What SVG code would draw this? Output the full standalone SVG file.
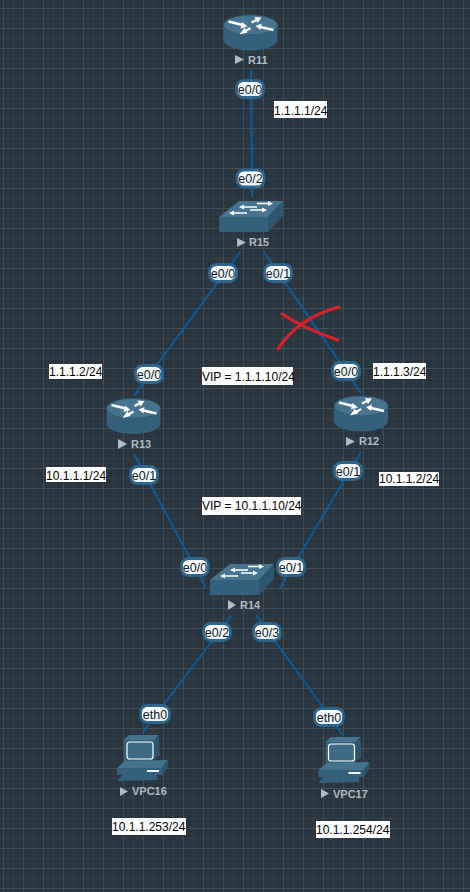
<svg xmlns="http://www.w3.org/2000/svg" xmlns:xlink="http://www.w3.org/1999/xlink" width="470" height="892" viewBox="0 0 470 892">
<style>
text{font-family:"Liberation Sans",Arial,sans-serif}
.lk{stroke:#0b5c9c;stroke-width:2;fill:none}
.pill{fill:url(#pg);stroke:#2a6690;stroke-width:2.8}
.pt{font-size:12.500px;fill:#101820;text-anchor:middle}
.nl{font-size:11px;font-weight:bold;fill:#b0bcc4}
.tri{fill:#b0bcc4}
.wb{fill:#fff}
.wt{font-size:12px;fill:#000}
.body{fill:#33607c}
.top{fill:#447490}
.side{fill:#2c566f}
.x{stroke:#dd1f2a;stroke-width:3;fill:none;stroke-linecap:round}
.ar{stroke:#fff;stroke-width:2.4;fill:none}
</style>
<defs>
<linearGradient id="pg" x1="0" y1="0" x2="0" y2="1"><stop offset="0" stop-color="#fff"/><stop offset="1" stop-color="#e8f3fc"/></linearGradient>
<pattern id="grid" width="20" height="20" patternUnits="userSpaceOnUse" x="3" y="8">
<path d="M10.5 0V20M0 10.5H20" stroke="#323f49" stroke-width="1"/>
<path d="M0.5 0V20M0 0.5H20" stroke="#414e58" stroke-width="1"/>
</pattern>
<symbol id="router" overflow="visible">
<path class="body" d="M-27 0V15A27 10.5 0 0 0 27 15V0Z"/>
<ellipse class="top" rx="27" ry="10" stroke="#2c566f" stroke-width="0.8"/>
<path class="ar" d="M-22-3.500L-8 0M23 5L10 2M1-2.500L6-5M0 3L-5 6"/>
<path fill="#fff" d="M-3 1.500L-10 3.500L-8.500-3ZM5 1L11-1.500L10 5ZM11-7.500L4-8L7-2ZM-11 9.500L-6 2.500L-3 7.500Z"/>
</symbol>
<symbol id="switch" overflow="visible">
<path class="body" d="M0 0H49V15H0Z"/>
<path class="top" d="M0 0L20-16H64L49 0Z"/>
<path class="side" d="M49 0L64-16V-1L49 15Z"/>
<path fill="none" stroke="#fff" stroke-width="1.500" d="M24-10H38M38-13.500H50M14-4H28M31-7H44"/>
<path fill="#fff" d="M54-13.500L49-16V-11ZM20-10L25-12.500V-7.500ZM10-4L15-6.500V-1.500ZM48-7L43-9.500V-4.500Z"/>
</symbol>
<symbol id="pc" overflow="visible">
<path class="top" d="M0 0L5-5H35L30 0Z"/>
<path class="side" d="M30 0L35-4L36 15L29 20Z"/>
<rect class="body" x="0" y="0" width="30" height="22"/>
<rect x="3" y="2" width="26" height="17" rx="2.500" fill="#3d6a87" stroke="#fff" stroke-width="1.200"/>
<path class="top" d="M-7 28L1 21L44 20L38 28Z"/>
<path class="side" d="M38 28L44 20V27L38 35Z"/>
<rect class="body" x="-7" y="28" width="45" height="7"/>
<rect x="23" y="30" width="12" height="2" fill="#fff"/>
<path class="body" d="M-7 41L-2 35H33L34 40Z"/>
</symbol>
</defs>
<rect width="470" height="892" fill="#29353f"/>
<rect width="470" height="892" fill="url(#grid)"/>
<g id="connectors">
<path class="lk" d="M251 70L252 197"/>
<path class="lk" d="M240 252L134 396"/>
<path class="lk" d="M264 252L361 393"/>
<path class="lk" d="M134 454L206 588"/>
<path class="lk" d="M361 452L280 588"/>
<path class="lk" d="M231 616L143 732"/>
<path class="lk" d="M256 615L343 735"/>
</g>
<g id="R11"><use xlink:href="#router" href="#router" x="250.500" y="25"/><path class="tri" d="M235 55L244 59.500L235 64Z"/><text class="nl" x="248" y="64">R11</text></g>
<g id="R15"><use xlink:href="#switch" href="#switch" x="219" y="217"/><path class="tri" d="M237 238L246 242.500L237 247Z"/><text class="nl" x="249" y="246">R15</text></g>
<g id="R13"><use xlink:href="#router" href="#router" x="133.500" y="408.500"/><path class="tri" d="M118 439L127 444L118 449Z"/><text class="nl" x="131" y="448">R13</text></g>
<g id="R12"><use xlink:href="#router" href="#router" x="361" y="406"/><path class="tri" d="M346 437L355 441.500L346 446Z"/><text class="nl" x="359" y="445">R12</text></g>
<g id="R14"><use xlink:href="#switch" href="#switch" x="210" y="580"/><path class="tri" d="M228 600L236 605L228 610Z"/><text class="nl" x="240" y="609">R14</text></g>
<g id="VPC16"><use xlink:href="#pc" href="#pc" x="124" y="740"/><path class="tri" d="M120 787L128 791.500L120 796Z"/><text class="nl" x="132" y="795">VPC16</text></g>
<g id="VPC17"><use xlink:href="#pc" href="#pc" x="325.500" y="742"/><path class="tri" d="M321 789L329 793.500L321 798Z"/><text class="nl" x="333" y="798">VPC17</text></g>
<g id="ports">
<g><rect class="pill" x="236.500" y="80.500" width="27" height="17" rx="7"/><text class="pt" x="250" y="93.500">e0/0</text></g>
<g><rect class="pill" x="237" y="170" width="27" height="17" rx="7"/><text class="pt" x="250.500" y="183">e0/2</text></g>
<g><rect class="pill" x="209.500" y="264.500" width="27" height="17" rx="7"/><text class="pt" x="223" y="277.500">e0/0</text></g>
<g><rect class="pill" x="264.500" y="264.500" width="27" height="17" rx="7"/><text class="pt" x="278" y="277.500">e0/1</text></g>
<g><rect class="pill" x="135.500" y="365.500" width="27" height="17" rx="7"/><text class="pt" x="149" y="378.500">e0/0</text></g>
<g><rect class="pill" x="130.500" y="466.500" width="27" height="17" rx="7"/><text class="pt" x="144" y="479.500">e0/1</text></g>
<g><rect class="pill" x="332.500" y="362.500" width="27" height="17" rx="7"/><text class="pt" x="346" y="375.500">e0/0</text></g>
<g><rect class="pill" x="334.500" y="462.500" width="27" height="17" rx="7"/><text class="pt" x="348" y="475.500">e0/1</text></g>
<g><rect class="pill" x="181.500" y="558.500" width="27" height="17" rx="7"/><text class="pt" x="195" y="571.500">e0/0</text></g>
<g><rect class="pill" x="277.500" y="558.500" width="27" height="17" rx="7"/><text class="pt" x="291" y="571.500">e0/1</text></g>
<g><rect class="pill" x="203.500" y="623.500" width="27" height="17" rx="7"/><text class="pt" x="217" y="636.500">e0/2</text></g>
<g><rect class="pill" x="253.500" y="623.500" width="27" height="17" rx="7"/><text class="pt" x="267" y="636.500">e0/3</text></g>
<g><rect class="pill" x="140.500" y="705.500" width="29" height="17" rx="7"/><text class="pt" x="155" y="718.500">eth0</text></g>
<g><rect class="pill" x="314.500" y="708.500" width="29" height="17" rx="7"/><text class="pt" x="329" y="721.500">eth0</text></g>
</g>
<g id="notes">
<rect class="wb" x="274" y="101" width="53" height="17"/><text class="wt" x="274" y="115">1.1.1.1/24</text>
<rect class="wb" x="49" y="364" width="53" height="15"/><text class="wt" x="49" y="376">1.1.1.2/24</text>
<rect class="wb" x="46" y="467" width="60" height="15"/><text class="wt" x="46" y="480">10.1.1.1/24</text>
<rect class="wb" x="373" y="363" width="53" height="16"/><text class="wt" x="373" y="376">1.1.1.3/24</text>
<rect class="wb" x="379" y="472" width="60" height="14"/><text class="wt" x="379" y="483">10.1.1.2/24</text>
<rect class="wb" x="202" y="367" width="91" height="18"/><text class="wt" x="202" y="381">VIP = 1.1.1.10/24</text>
<rect class="wb" x="202" y="497" width="99" height="18"/><text class="wt" x="202" y="510">VIP = 10.1.1.10/24</text>
<rect class="wb" x="112" y="818" width="74" height="17"/><text class="wt" x="112" y="831">10.1.1.253/24</text>
<rect class="wb" x="316" y="821" width="74" height="17"/><text class="wt" x="316" y="834">10.1.1.254/24</text>
</g>
<g id="cross">
<path class="x" d="M282 314Q305 329 338 340"/>
<path class="x" d="M339 307Q298 318 278 349"/>
</g>
</svg>
